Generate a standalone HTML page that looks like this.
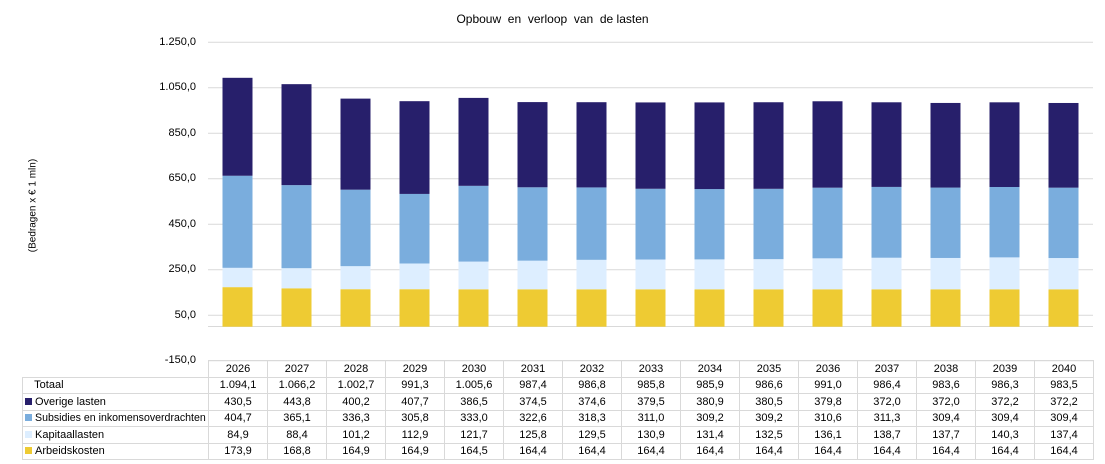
<!DOCTYPE html>
<html><head><meta charset="utf-8"><style>
body{margin:0;width:1105px;height:464px;background:#fff;font-family:"Liberation Sans",Arial,sans-serif;overflow:hidden;position:relative}
.t{position:absolute;font-size:11px;color:#000}
table{position:absolute;left:22px;top:360px;border-collapse:collapse;font-size:11px;font-family:"Liberation Sans",Arial,sans-serif;table-layout:fixed;width:1071px}
td{border:1px solid #d9d9d9;height:15.5px;padding:0;text-align:center;width:59px;line-height:14px;white-space:nowrap;overflow:hidden}
td.l{width:184px;text-align:left;padding-left:2px}
tr.h td.l{border:none;border-right:1px solid #d9d9d9}
.sq{display:inline-block;width:7px;height:7px;margin-right:3px;vertical-align:0}
</style></head><body>
<div class="t" style="left:0;width:1105px;text-align:center;top:12px;font-size:12px">Opbouw&nbsp; en&nbsp; verloop&nbsp; van&nbsp; de lasten</div>
<div class="t" style="left:-32px;top:200px;transform:rotate(-90deg);width:130px;text-align:center;font-size:10px">(Bedragen x € 1 mln)</div>
<div class="t" style="right:909px;top:36px">1.250,0</div>
<div class="t" style="right:909px;top:81px">1.050,0</div>
<div class="t" style="right:909px;top:127px">850,0</div>
<div class="t" style="right:909px;top:172px">650,0</div>
<div class="t" style="right:909px;top:218px">450,0</div>
<div class="t" style="right:909px;top:263px">250,0</div>
<div class="t" style="right:909px;top:309px">50,0</div>
<div class="t" style="right:909px;top:354px">-150,0</div>
<svg id="s" width="1105" height="464" style="position:absolute;left:0;top:0"></svg>
<table>
<colgroup><col style="width:186px"><col span="15" style="width:59px"></colgroup>
<tr class="h"><td class="l"></td><td>2026</td><td>2027</td><td>2028</td><td>2029</td><td>2030</td><td>2031</td><td>2032</td><td>2033</td><td>2034</td><td>2035</td><td>2036</td><td>2037</td><td>2038</td><td>2039</td><td>2040</td></tr>
<tr><td class="l">&nbsp; &nbsp;Totaal</td><td>1.094,1</td><td>1.066,2</td><td>1.002,7</td><td>991,3</td><td>1.005,6</td><td>987,4</td><td>986,8</td><td>985,8</td><td>985,9</td><td>986,6</td><td>991,0</td><td>986,4</td><td>983,6</td><td>986,3</td><td>983,5</td></tr>
<tr><td class="l"><span class="sq" style="background:#271f6b"></span>Overige lasten</td><td>430,5</td><td>443,8</td><td>400,2</td><td>407,7</td><td>386,5</td><td>374,5</td><td>374,6</td><td>379,5</td><td>380,9</td><td>380,5</td><td>379,8</td><td>372,0</td><td>372,0</td><td>372,2</td><td>372,2</td></tr>
<tr><td class="l" style="font-size:10.6px"><span class="sq" style="background:#7aaddd"></span>Subsidies en inkomensoverdrachten</td><td>404,7</td><td>365,1</td><td>336,3</td><td>305,8</td><td>333,0</td><td>322,6</td><td>318,3</td><td>311,0</td><td>309,2</td><td>309,2</td><td>310,6</td><td>311,3</td><td>309,4</td><td>309,4</td><td>309,4</td></tr>
<tr><td class="l"><span class="sq" style="background:#ddeeff"></span>Kapitaallasten</td><td>84,9</td><td>88,4</td><td>101,2</td><td>112,9</td><td>121,7</td><td>125,8</td><td>129,5</td><td>130,9</td><td>131,4</td><td>132,5</td><td>136,1</td><td>138,7</td><td>137,7</td><td>140,3</td><td>137,4</td></tr>
<tr><td class="l"><span class="sq" style="background:#eecb33"></span>Arbeidskosten</td><td>173,9</td><td>168,8</td><td>164,9</td><td>164,9</td><td>164,5</td><td>164,4</td><td>164,4</td><td>164,4</td><td>164,4</td><td>164,4</td><td>164,4</td><td>164,4</td><td>164,4</td><td>164,4</td><td>164,4</td></tr>
</table>
<script>
var s=document.getElementById('s'),h='';
var z=326.7,k=0.2275;
for(var v=1250;v>=-150;v-=200){var y=(z-v*k).toFixed(1);h+='<line x1="208" x2="1093" y1="'+y+'" y2="'+y+'" stroke="#d9d9d9" stroke-width="1"/>';}
h+='<line x1="208" x2="1093" y1="326.5" y2="326.5" stroke="#d9d9d9"/>';
var A=[173.9,168.8,164.9,164.9,164.5,164.4,164.4,164.4,164.4,164.4,164.4,164.4,164.4,164.4,164.4],
K=[84.9,88.4,101.2,112.9,121.7,125.8,129.5,130.9,131.4,132.5,136.1,138.7,137.7,140.3,137.4],
S=[404.7,365.1,336.3,305.8,333.0,322.6,318.3,311.0,309.2,309.2,310.6,311.3,309.4,309.4,309.4],
O=[430.5,443.8,400.2,407.7,386.5,374.5,374.6,379.5,380.9,380.5,379.8,372.0,372.0,372.2,372.2];
var C=['#eecb33','#ddeeff','#7aaddd','#271f6b'],D=[A,K,S,O];
for(var i=0;i<15;i++){var x=222.5+i*59,b=0;for(var j=0;j<4;j++){var v=D[j][i];var y1=z-(b+v)*k;h+='<rect x="'+x+'" y="'+y1.toFixed(2)+'" width="30" height="'+(v*k).toFixed(2)+'" fill="'+C[j]+'"/>';b+=v;}}
s.innerHTML=h;
</script>
</body></html>
